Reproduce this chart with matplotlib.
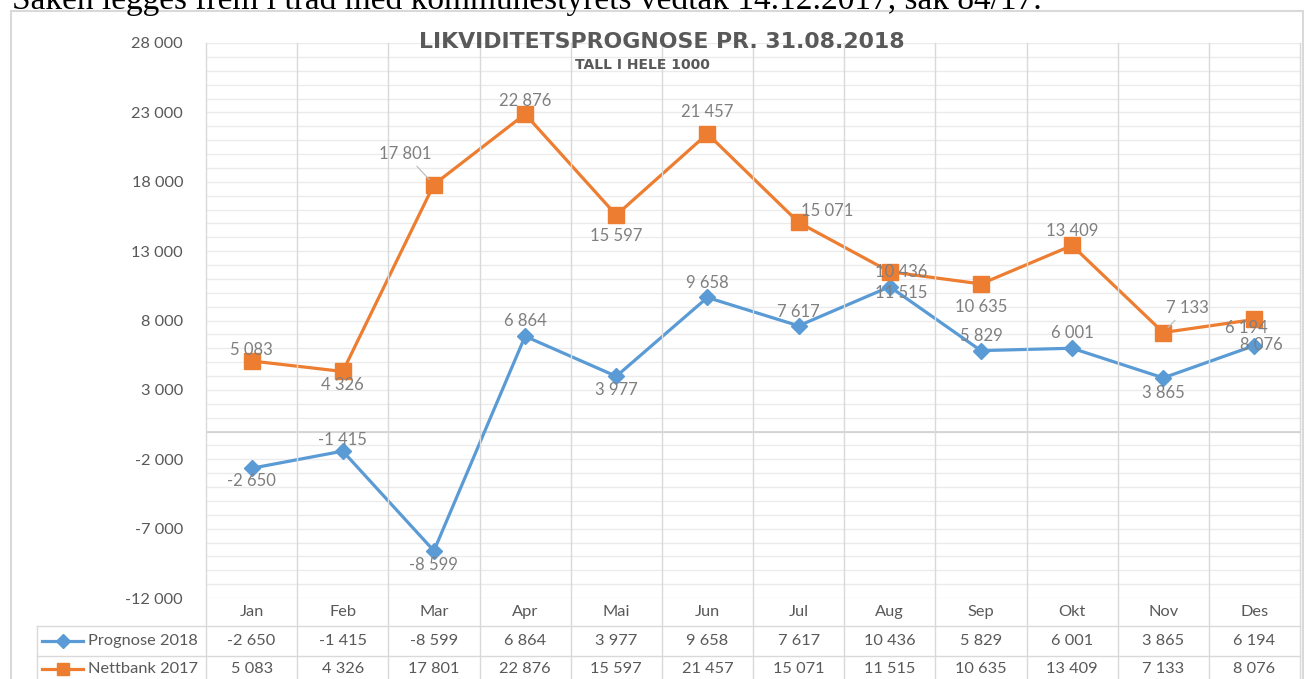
import matplotlib
matplotlib.use("Agg")
import matplotlib.pyplot as plt
from matplotlib.lines import Line2D
from matplotlib.patches import Rectangle

# ---------------- data ----------------
months = ["Jan", "Feb", "Mar", "Apr", "Mai", "Jun", "Jul", "Aug", "Sep", "Okt", "Nov", "Des"]
prognose_2018 = [-2650, -1415, -8599, 6864, 3977, 9658, 7617, 10436, 5829, 6001, 3865, 6194]
nettbank_2017 = [5083, 4326, 17801, 22876, 15597, 21457, 15071, 11515, 10635, 13409, 7133, 8076]
series_names = ["Prognose 2018", "Nettbank 2017"]
yticks = [-12000, -7000, -2000, 3000, 8000, 13000, 18000, 23000, 28000]
title = "LIKVIDITETSPROGNOSE PR. 31.08.2018"
subtitle = "TALL I HELE 1000"
top_text = "Saken legges frem i tråd med kommunestyrets vedtak 14.12.2017, sak 84/17."

# label offsets (pixels) for the data labels
blue_off = [(0, -13), (0, 11), (0, -14), (0, 15), (0, -14), (0, 14), (0, 14),
            (11, 15), (0, 15), (0, 15), (0, -15), (-8, 18)]
orange_off = [(0, 11), (0, -14), (-29, 31), (0, 13), (0, -21), (0, 22), (29, 11),
              (11, -21), (0, -23), (0, 14), (24, 25), (7, -26)]
leader = [False, False, True, False, False, False, False, False, False, False, True, False]

W, H = 1304, 679
BLUE = "#5B9BD5"
ORANGE = "#ED7D31"
TXT = "#595959"
LBL = "#7F7F7F"
GRID = "#EBEBEB"
VGRID = "#D9D9D9"

plt.rcParams["font.family"] = ["Lato", "DejaVu Sans"]

fig = plt.figure(figsize=(W / 100, H / 100), dpi=100)

# plot area in pixel coordinates
PL, PR, PT, PB = 206, 1300, 43, 598
ax = fig.add_axes([PL / W, 1 - PB / H, (PR - PL) / W, (PB - PT) / H])
ax.set_xlim(-0.5, len(months) - 0.5)
ax.set_ylim(min(yticks), max(yticks))
for s in ax.spines.values():
    s.set_visible(False)
ax.set_xticks([])
ax.set_yticks(yticks)
ax.set_yticklabels([f"{v:,}".replace(",", " ") for v in yticks], color=TXT, fontsize=11.8)
ax.tick_params(axis="y", length=0, pad=16.5)

# horizontal grid every 1000
for v in range(min(yticks), max(yticks) + 1, 1000):
    ax.axhline(v, color=GRID, lw=1.0, zorder=0)
ax.axhline(0, color="#D0D0D0", lw=1.2, zorder=0.5)

x = list(range(len(months)))
ax.plot(x, prognose_2018, color=BLUE, lw=2.3, marker="D", ms=8.5, zorder=3,
        solid_joinstyle="round")
ax.plot(x, nettbank_2017, color=ORANGE, lw=2.3, marker="s", ms=11, zorder=3,
        solid_joinstyle="round")

def fmt(v):
    return f"{v:,}".replace(",", " ")

for i, v in enumerate(prognose_2018):
    dx, dy = blue_off[i]
    ax.annotate(fmt(v), (i, v), xytext=(dx, dy), textcoords="offset pixels",
                ha="center", va="center", fontsize=12, color=LBL, zorder=5)
for i, v in enumerate(nettbank_2017):
    dx, dy = orange_off[i]
    ap = None
    if leader[i]:
        ap = dict(arrowstyle="-", color="#BFBFBF", lw=0.9, shrinkA=2, shrinkB=5)
    ax.annotate(fmt(v), (i, v), xytext=(dx, dy), textcoords="offset pixels",
                ha="center", va="center", fontsize=12, color=LBL, zorder=5,
                arrowprops=ap)

# ---------------- figure-level drawing helpers ----------------
def fx(px):
    return px / W

def fy(py):
    return 1 - py / H

def fline(x1, y1, x2, y2, color=VGRID, lw=1.0):
    fig.add_artist(Line2D([fx(x1), fx(x2)], [fy(y1), fy(y2)], color=color, lw=lw,
                          transform=fig.transFigure, zorder=1))

# chart border
fig.add_artist(Rectangle((fx(11), fy(H + 5)), fx(1303) - fx(11), fy(11) - fy(H + 5),
                         fill=False, edgecolor="#D9D9D9", lw=1.5,
                         transform=fig.transFigure))

# vertical lines at column boundaries (through plot and table)
colw = (PR - PL) / len(months)
for k in range(len(months) + 1):
    xx = PL + k * colw
    fline(xx, PT, xx, H + 2)

# table rows
ROW1, ROW2 = 626, 656
fline(37, ROW1, PR, ROW1)
fline(37, ROW2, PR, ROW2)
fline(37, ROW1, 37, H + 2)

# month header + values
for k, m in enumerate(months):
    cx = PL + (k + 0.5) * colw
    fig.text(fx(cx), fy(612), m, ha="center", va="center", fontsize=11.8, color=TXT)
    fig.text(fx(cx), fy(641), fmt(prognose_2018[k]), ha="center", va="center",
             fontsize=11.8, color=TXT)
    fig.text(fx(cx), fy(669), fmt(nettbank_2017[k]), ha="center", va="center",
             fontsize=11.8, color=TXT)

# legend keys in the table
for (name, col, mk, ms, yy) in [(series_names[0], BLUE, "D", 7, 641),
                                (series_names[1], ORANGE, "s", 9, 669)]:
    fig.add_artist(Line2D([fx(42), fx(83)], [fy(yy), fy(yy)], color=col, lw=2.3,
                          transform=fig.transFigure))
    fig.add_artist(Line2D([fx(62.5)], [fy(yy)], color=col, marker=mk, ms=ms,
                          transform=fig.transFigure))
    fig.text(fx(88), fy(yy), name, ha="left", va="center", fontsize=11.8, color=TXT)

# titles (wide bold face to mimic the letter-spaced original)
fig.text(fx(662), fy(42), title, ha="center", va="center", fontsize=15.8,
         fontweight="bold", color=TXT, family=["DejaVu Sans"])
fig.text(fx(642), fy(65), subtitle, ha="center", va="center", fontsize=10,
         fontweight="bold", color=TXT, family=["DejaVu Sans"])

# cut-off sentence above the chart
fig.text(fx(12), fy(9), top_text, ha="left", va="baseline", fontsize=24,
         family=["Liberation Serif", "DejaVu Serif"], color="black")

fig.savefig("out.png", dpi=100)
